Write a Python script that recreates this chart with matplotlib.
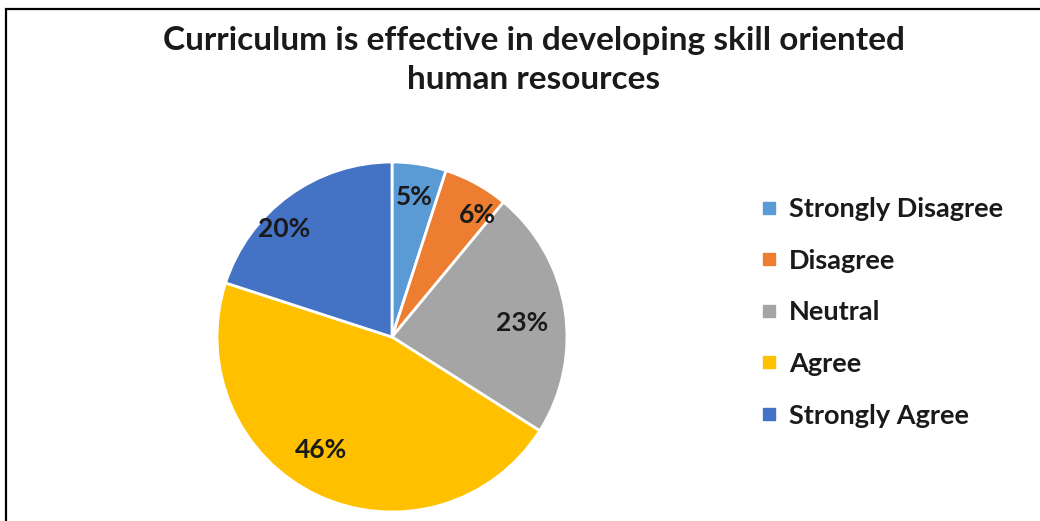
import numpy as np
import matplotlib.pyplot as plt
from matplotlib.lines import Line2D
from matplotlib.patches import Rectangle

labels = ['Strongly Disagree', 'Disagree', 'Neutral', 'Agree', 'Strongly Agree']
values = [5, 6, 23, 46, 20]
colors = ['#5B9BD5', '#ED7D31', '#A5A5A5', '#FFC000', '#4472C4']
title = 'Curriculum is effective in developing skill oriented\nhuman resources'

# where Excel put each percentage label (radius fraction, angle shift in deg)
label_r = [0.81, 0.85, 0.75, 0.76, 0.87]
label_shift = [0, -6, -3, -7, 9]

plt.rcParams['font.family'] = ['Lato', 'DejaVu Sans']

fig = plt.figure(figsize=(10.4, 5.21), dpi=100)
W, H = 1040, 521

# frame around the chart (runs off the right and bottom edges)
fig.patches.append(Rectangle((6 / W, -0.1), 1.2, (H - 9) / H + 0.1,
                             transform=fig.transFigure, fill=False,
                             edgecolor='black', linewidth=1.6))

# pie centred at (392, 337) px with radius 175 px
ax = fig.add_axes([217 / W, (H - 512) / H, 350 / W, 350 / H])
wedges, texts = ax.pie(values, colors=colors, startangle=90,
                       counterclock=False,
                       wedgeprops=dict(edgecolor='white', linewidth=2))
for w, v, r, s in zip(wedges, values, label_r, label_shift):
    ang = np.deg2rad((w.theta1 + w.theta2) / 2 + s)
    ax.text(r * np.cos(ang), r * np.sin(ang), f'{v}%', ha='center', va='center',
            fontsize=19, fontweight='bold', color='#1a1a1a')
ax.set_xlim(-1, 1)
ax.set_ylim(-1, 1)
ax.set_aspect('equal')

fig.text(534 / W, 1 - 60 / H, title, ha='center', va='center',
         fontsize=24, fontweight='bold', color='#1a1a1a', linespacing=1.38)

handles = [Line2D([], [], marker='s', linestyle='', markersize=8,
                  markerfacecolor=c, markeredgecolor=c) for c in colors]
leg = fig.legend(handles, labels, loc='upper left',
                 bbox_to_anchor=(758 / W, 1 - 197 / H), frameon=False,
                 borderaxespad=0, borderpad=0,
                 prop=dict(size=19.5, weight='bold'), labelspacing=1.02,
                 handlelength=0.8, handletextpad=0.35)
for t in leg.get_texts():
    t.set_color('#1a1a1a')

fig.savefig('out.png', dpi=100)
